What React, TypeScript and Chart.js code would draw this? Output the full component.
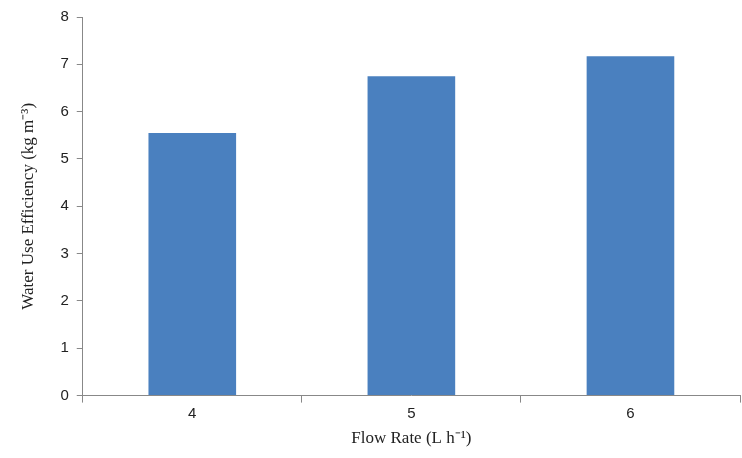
import { useEffect, useRef } from "react";
import { Chart, registerables } from "chart.js";

Chart.register(...registerables);

const categories = ["4", "5", "6"];
const efficiency = [5.55, 6.75, 7.17];
const yMin = 0;
const yMax = 8;

export default function App() {
    const canvasRef = useRef<HTMLCanvasElement>(null);

    useEffect(() => {
        document.body.style.margin = "0";
        if (!canvasRef.current) return;
        const ctx = canvasRef.current.getContext("2d");
        if (!ctx) return;

        const chart = new Chart(ctx, {
            type: "bar",
            data: {
                labels: categories,
                datasets: [
                    {
                        label: "Water Use Efficiency",
                        data: efficiency,
                        backgroundColor: "#4a80bf",
                        barPercentage: 0.8,
                        categoryPercentage: 0.5,
                    },
                ],
            },
            options: {
                animation: false,
                responsive: false,
                layout: { padding: { top: 10, right: 2, left: 18, bottom: 9 } },
                plugins: { legend: { display: false }, tooltip: { enabled: false } },
                scales: {
                    x: {
                        offset: true,
                        grid: {
                            offset: true,
                            drawOnChartArea: false,
                            tickLength: 7,
                            color: "#888",
                        },
                        border: { color: "#888" },
                        ticks: { color: "#222", font: { family: "Liberation Sans", size: 15 }, padding: 2 },
                        title: {
                            display: true,
                            text: "Flow Rate (L h⁻¹)",
                            color: "#222",
                            font: { family: "Liberation Serif", size: 17 },
                            padding: { top: 4, bottom: 0 },
                        },
                    },
                    y: {
                        min: yMin,
                        max: yMax,
                        grid: { drawOnChartArea: false, tickLength: 6, color: "#888" },
                        border: { color: "#888" },
                        ticks: { stepSize: 1, color: "#222", font: { family: "Liberation Sans", size: 15 }, padding: 8 },
                        title: {
                            display: true,
                            text: "Water Use Efficiency (kg m⁻³)",
                            color: "#222",
                            font: { family: "Liberation Serif", size: 17 },
                            padding: { top: 0, bottom: 14 },
                        },
                    },
                },
            },
        });
        return () => {
            chart.destroy();
        };
    }, []);

    return <canvas ref={canvasRef} width={742} height={458} />;
}
